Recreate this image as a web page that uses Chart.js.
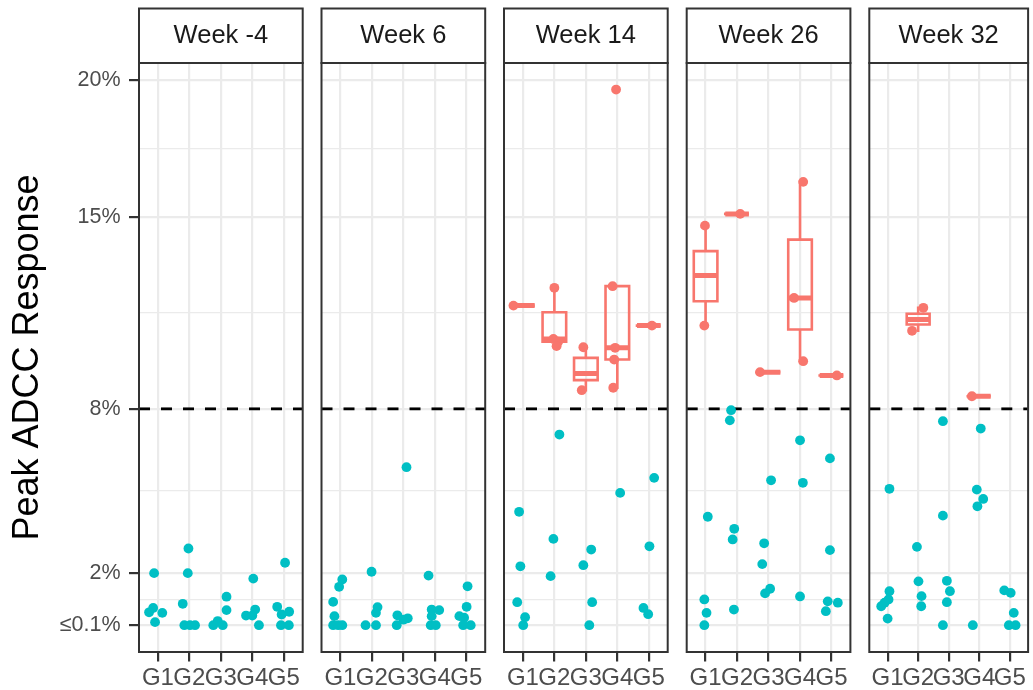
<!DOCTYPE html>
<html>
<head>
<meta charset="utf-8">
<script src="https://cdn.jsdelivr.net/npm/chart.js@4.4.0/dist/chart.umd.min.js"></script>
<style>
  html, body { margin: 0; padding: 0; background: #ffffff; }
  #wrap { position: relative; width: 1033px; height: 690px; overflow: hidden; }
  #wrap canvas { position: absolute; top: 0; }
</style>
</head>
<body>
<div id="wrap"></div>
<script>
// ---- data ----
const weeks = ['Week -4', 'Week 6', 'Week 14', 'Week 26', 'Week 32'];
const groups = ['G1', 'G2', 'G3', 'G4', 'G5'];

const yTickValues = [0.1, 1.05, 2, 5, 8, 11.5, 15, 17.5, 20];
const yTickLabels = ['\u22640.1%', '', '2%', '', '8%', '', '15%', '', '20%'];
const threshold = 8;

// responses below the threshold, per week -> per group
const lowValues = [
  [[2.0, 0.73, 0.57, 0.55, 0.21], [2.9, 2.0, 0.88, 0.1, 0.1, 0.1], [1.14, 0.65, 0.25, 0.1, 0.1], [1.8, 0.67, 0.45, 0.45, 0.1], [2.38, 0.77, 0.59, 0.49, 0.1, 0.1]],
  [[1.77, 1.5, 0.95, 0.43, 0.1, 0.1, 0.1], [2.05, 0.76, 0.55, 0.1, 0.1], [5.87, 0.46, 0.35, 0.3, 0.1], [1.91, 0.67, 0.65, 0.43, 0.1, 0.1], [1.52, 0.77, 0.43, 0.37, 0.1, 0.1]],
  [[4.24, 2.25, 0.94, 0.39, 0.1], [7.06, 3.25, 1.89], [2.86, 2.29, 0.94, 0.1], [4.93], [5.48, 2.98, 0.73, 0.5]],
  [[4.06, 1.04, 0.55, 0.1], [7.95, 7.58, 3.62, 3.23, 0.67], [5.39, 3.09, 2.33, 1.43, 1.26], [6.85, 5.3, 1.15], [6.19, 2.84, 0.97, 0.92, 0.61]],
  [[5.08, 1.34, 1.04, 0.92, 0.79, 0.34], [2.96, 1.7, 1.16, 0.79], [7.55, 4.1, 1.72, 1.34, 0.94, 0.1], [7.28, 5.05, 4.71, 4.44, 0.1], [1.37, 1.28, 0.55, 0.1, 0.1]]
];
// horizontal jitter of each point (in category units)
const lowJitter = [
  [[-0.12, -0.15, -0.28, 0.14, -0.09], [-0.03, -0.05, -0.21, -0.16, 0.02, 0.18], [0.18, 0.18, -0.1, -0.24, 0.06], [0.03, 0.09, -0.2, 0, 0.21], [0.04, -0.21, 0.17, -0.07, -0.09, 0.16]],
  [[0.06, -0.04, -0.23, -0.19, -0.23, -0.07, 0.06], [-0.01, 0.18, 0.13, -0.2, 0.13], [0.1, -0.19, 0.14, 0.0, -0.21], [-0.2, -0.1, 0.14, -0.1, -0.13, 0.03], [0.04, 0.01, -0.22, -0.07, -0.1, 0.14]],
  [[-0.12, -0.08, -0.18, 0.07, 0.01], [0.16, -0.03, -0.12], [0.17, -0.08, 0.2, 0.11], [0.09], [0.17, 0.02, -0.17, -0.02]],
  [[0.07, -0.04, 0.03, -0.04], [-0.19, -0.23, -0.09, -0.14, -0.1], [0.08, -0.14, -0.2, 0.05, -0.11], [0, 0.09, 0], [-0.05, -0.05, -0.12, 0.2, -0.18]],
  [[0.06, 0.06, 0.03, -0.1, -0.21, 0], [-0.04, 0.01, 0.11, 0.1], [-0.19, -0.19, -0.06, 0.04, -0.06, -0.19], [0.05, -0.08, 0.13, -0.06, -0.21], [-0.18, 0.03, 0.13, -0.03, 0.19]]
];

// responses above the threshold
const highValues = [
  [[], [], [], [], []],
  [[], [], [], [], []],
  [[11.77], [12.42, 10.55, 10.45, 10.29], [10.25, 8.68], [19.66, 12.48, 10.23, 9.8, 8.77], [11.04]],
  [[14.69, 11.04], [15.12], [9.34], [16.29, 12.05, 9.74], [9.22]],
  [[], [11.69, 10.85], [], [8.46], []]
];
const highJitter = [
  [[], [], [], [], []],
  [[], [], [], [], []],
  [[-0.3], [0, -0.03, 0.12, 0.07], [-0.08, -0.13], [-0.04, -0.15, -0.07, -0.1, -0.13], [0.1]],
  [[-0.02, -0.04], [0.1], [-0.27], [0.1, -0.19, 0.1], [0.17]],
  [[], [0.17, -0.2], [], [-0.24], []]
];

// box statistics of the responders (null = no box)
const N = [null, null, null, null, null];
const boxQ1     = [N, N, [11.77, 10.45, 9.05, 9.8, 11.04],  [11.93, 15.12, 9.34, 10.9, 9.22],  [null, 11.08, null, 8.46, null]];
const boxMedian = [N, N, [11.77, 10.55, 9.29, 10.23, 11.04], [12.87, 15.12, 9.34, 12.05, 9.22], [null, 11.26, null, 8.46, null]];
const boxQ3     = [N, N, [11.77, 11.53, 9.86, 12.48, 11.04], [13.76, 15.12, 9.34, 14.18, 9.22], [null, 11.47, null, 8.46, null]];
const whiskerLow  = [N, N, [11.77, 10.29, 8.68, 8.77, 11.04], [11.04, 15.12, 9.34, 9.74, 9.22], [null, 10.85, null, 8.46, null]];
const whiskerHigh = [N, N, [11.77, 12.42, 10.25, 12.48, 11.04], [14.69, 15.12, 9.34, 16.29, 9.22], [null, 11.69, null, 8.46, null]];

// ---- layout & style ----
const FONT = "'Liberation Sans', Arial, Helvetica, sans-serif";
Chart.defaults.font.family = FONT;
const RED = '#F8766D', CYAN = '#00BFC4', GRID = '#EBEBEB', DARK = '#333333';
const PANEL_LEFT  = [139, 321.5, 504, 686.7, 869.3];
const PANEL_RIGHT = [302.7, 485.2, 667.7, 850.4, 1032.3];
const STRIP_TOP = 8.5, PANEL_BOTTOM = 652, H = 690;
const BOX_HALF = 0.375;
const Y_MIN = -0.88, Y_MAX = 20.63;
const DOT = 4.9;

const isMinor = v => yTickLabels[yTickValues.indexOf(v)] === '';

const panelFrame = {
  id: 'panelFrame',
  beforeDraw(chart) {
    const { ctx, chartArea: a } = chart;
    const t = chart.titleBlock;
    ctx.save();
    ctx.fillStyle = '#ffffff';
    ctx.fillRect(a.left, t.top, a.right - a.left, a.top - t.top);
    ctx.strokeStyle = DARK;
    ctx.lineWidth = 2;
    ctx.strokeRect(a.left, t.top, a.right - a.left, a.top - t.top);
    ctx.restore();
  },
  afterDatasetsDraw(chart) {
    const { ctx, chartArea: a } = chart;
    ctx.save();
    ctx.strokeStyle = DARK;
    ctx.lineWidth = 2;
    ctx.strokeRect(a.left, a.top, a.right - a.left, a.bottom - a.top);
    ctx.restore();
  }
};

function jitteredPoints(values, jitter, w) {
  const out = [];
  values[w].forEach((arr, gi) => arr.forEach((v, k) => out.push({ x: gi + 1 + jitter[w][gi][k], y: v })));
  return out;
}

function boxLines(w) {
  const outline = [], median = [];
  groups.forEach((g, gi) => {
    const q1 = boxQ1[w][gi];
    if (q1 == null) return;
    const q3 = boxQ3[w][gi], md = boxMedian[w][gi], lo = whiskerLow[w][gi], hi = whiskerHigh[w][gi];
    const x = gi + 1, h = BOX_HALF;
    outline.push(
      { x: x - h, y: q1 }, { x: x + h, y: q1 }, { x: x + h, y: q3 }, { x: x - h, y: q3 }, { x: x - h, y: q1 }, { x: x, y: null },
      { x: x, y: q3 }, { x: x, y: hi }, { x: x, y: null },
      { x: x, y: lo }, { x: x, y: q1 }, { x: x, y: null }
    );
    median.push({ x: x - h, y: md }, { x: x + h, y: md }, { x: x, y: null });
  });
  return { outline, median };
}

const wrap = document.getElementById('wrap');

weeks.forEach((week, w) => {
  const first = w === 0;
  const left = PANEL_LEFT[w], right = PANEL_RIGHT[w];
  const cLeft = first ? 0 : Math.floor(left) - 8;
  const cRight = Math.min(1033, Math.ceil(right) + 8);
  const cWidth = cRight - cLeft;

  const canvas = document.createElement('canvas');
  canvas.width = cWidth;
  canvas.height = H;
  canvas.style.left = cLeft + 'px';
  canvas.style.width = cWidth + 'px';
  canvas.style.height = H + 'px';
  wrap.appendChild(canvas);

  const box = boxLines(w);

  new Chart(canvas, {
    type: 'scatter',
    data: {
      datasets: [
        {
          label: 'responders',
          data: jitteredPoints(highValues, highJitter, w),
          backgroundColor: RED, borderWidth: 0, pointRadius: DOT, pointHoverRadius: DOT, order: 1
        },
        {
          label: 'non-responders',
          data: jitteredPoints(lowValues, lowJitter, w),
          backgroundColor: CYAN, borderWidth: 0, pointRadius: DOT, pointHoverRadius: DOT, order: 2
        },
        {
          label: 'median',
          data: box.median, showLine: true, spanGaps: false,
          borderColor: RED, borderWidth: 5, borderCapStyle: 'butt', pointRadius: 0, order: 3
        },
        {
          label: 'box',
          data: box.outline, showLine: true, spanGaps: false,
          borderColor: RED, borderWidth: 2.6, borderCapStyle: 'square', borderJoinStyle: 'miter', pointRadius: 0, order: 4
        },
        {
          label: 'threshold',
          data: [{ x: 0.4, y: threshold }, { x: 5.6, y: threshold }], showLine: true,
          borderColor: '#000000', borderWidth: 2.8, borderDash: [11, 11], pointRadius: 0, order: 5
        }
      ]
    },
    options: {
      responsive: false,
      animation: false,
      events: [],
      layout: { padding: { left: first ? 0 : left - cLeft, right: cRight - right, top: STRIP_TOP, bottom: 0 } },
      plugins: {
        legend: { display: false },
        tooltip: { enabled: false },
        title: {
          display: true, text: week, fullSize: false, color: '#1A1A1A',
          font: { family: FONT, size: 25.5, weight: 'normal', lineHeight: 1.2 },
          padding: { top: 12, bottom: 11.9 }
        }
      },
      scales: {
        x: {
          type: 'linear', min: 0.4, max: 5.6, bounds: 'data', offset: false,
          afterBuildTicks: s => { s.ticks = groups.map((g, i) => ({ value: i + 1 })); },
          afterFit: s => { s.height = H - PANEL_BOTTOM; },
          ticks: {
            autoSkip: false, maxRotation: 0, minRotation: 0,
            callback: v => groups[Math.round(v) - 1],
            color: '#4D4D4D', font: { family: FONT, size: 24 }, padding: 2.5
          },
          grid: { color: GRID, lineWidth: 2.2, tickLength: 9.5, tickWidth: 2.2, tickColor: DARK },
          border: { display: false }
        },
        y: {
          type: 'linear', min: Y_MIN, max: Y_MAX, bounds: 'data',
          afterBuildTicks: s => { s.ticks = yTickValues.map(v => ({ value: v })); },
          afterFit: s => { s.width = first ? left : 0; },
          ticks: {
            display: first, autoSkip: false,
            callback: (v, i) => yTickLabels[i],
            color: '#4D4D4D', font: { family: FONT, size: 21.5 }, padding: 8.5
          },
          grid: {
            color: GRID,
            lineWidth: c => (c.tick && isMinor(c.tick.value)) ? 1.3 : 2.2,
            drawTicks: first, tickLength: 10, tickWidth: 2.2,
            tickColor: c => (c.tick && isMinor(c.tick.value)) ? 'rgba(0,0,0,0)' : DARK
          },
          border: { display: false },
          title: {
            display: first, text: 'Peak ADCC Response', color: '#000000',
            font: { family: FONT, size: 36, weight: 'normal', lineHeight: 1.2 },
            padding: { top: 6, bottom: 0 }
          }
        }
      }
    },
    plugins: [panelFrame]
  });
});
</script>
</body>
</html>
